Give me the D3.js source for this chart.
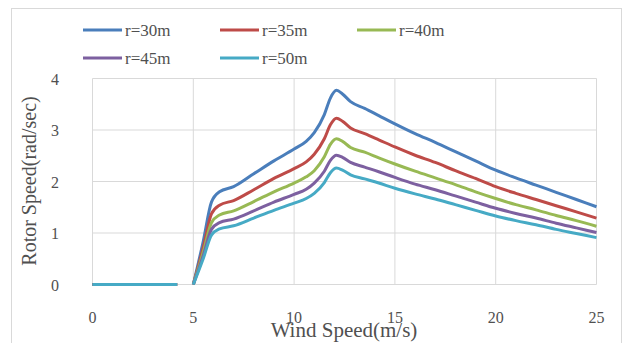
<!DOCTYPE html>
<html>
<head>
<meta charset="utf-8">
<script src="https://cdn.jsdelivr.net/npm/d3@7"></script>
<style>
  body { margin: 0; background: #fff; }
  svg { display: block; }
  svg text { font-family: "Liberation Serif", "DejaVu Serif", serif; }
</style>
</head>
<body>
<div id="chart"></div>
<script>
// wind speed (m/s) for the flat start, then the running part
const zeroWind = [0, 1, 2, 3, 4, 4.2];
const windSpeed = [5, 5.5, 5.9, 6.3, 7, 8, 9, 10, 10.6, 11, 11.5, 11.8, 12.1, 12.4, 12.8, 13.5, 14.2, 15, 16, 17, 18, 19, 20, 21, 22, 23, 24, 25];

// rotor speed (rad/sec) per rotor radius
const r30 = [0, 0.85, 1.6, 1.8, 1.9, 2.15, 2.4, 2.63, 2.78, 2.95, 3.3, 3.62, 3.77, 3.7, 3.55, 3.42, 3.28, 3.12, 2.93, 2.76, 2.58, 2.4, 2.22, 2.07, 1.93, 1.79, 1.65, 1.51];
const r35 = [0, 0.73, 1.37, 1.54, 1.63, 1.84, 2.06, 2.25, 2.38, 2.53, 2.83, 3.10, 3.23, 3.17, 3.04, 2.93, 2.81, 2.67, 2.51, 2.37, 2.21, 2.06, 1.90, 1.77, 1.65, 1.53, 1.41, 1.29];
const r40 = [0, 0.64, 1.2, 1.35, 1.43, 1.61, 1.8, 1.97, 2.09, 2.21, 2.48, 2.72, 2.83, 2.78, 2.66, 2.57, 2.46, 2.34, 2.2, 2.07, 1.94, 1.8, 1.67, 1.55, 1.45, 1.34, 1.24, 1.13];
const r45 = [0, 0.57, 1.07, 1.2, 1.27, 1.43, 1.6, 1.75, 1.85, 1.97, 2.2, 2.41, 2.51, 2.47, 2.37, 2.28, 2.19, 2.08, 1.95, 1.84, 1.72, 1.6, 1.48, 1.38, 1.29, 1.19, 1.1, 1.01];
const r50 = [0, 0.51, 0.96, 1.08, 1.14, 1.29, 1.44, 1.58, 1.67, 1.77, 1.98, 2.17, 2.26, 2.22, 2.13, 2.05, 1.97, 1.87, 1.76, 1.66, 1.55, 1.44, 1.33, 1.24, 1.16, 1.07, 0.99, 0.91];

const seriesNames = ['r=30m', 'r=35m', 'r=40m', 'r=45m', 'r=50m'];
const seriesValues = [r30, r35, r40, r45, r50];
const xTicks = [0, 5, 10, 15, 20, 25];
const yTicks = [0, 1, 2, 3, 4];

const colors = ['#4a7ebb', '#be4b48', '#98b954', '#7d60a0', '#46aac5'];

const width = 624, height = 343;
const svg = d3.select('#chart').append('svg')
    .attr('width', width)
    .attr('height', height);

// chart frame
svg.append('rect')
    .attr('x', 11.5).attr('y', 8.5)
    .attr('width', 610).attr('height', 345)
    .attr('fill', 'none')
    .attr('stroke', '#d9d9d9');

const x = d3.scaleLinear().domain([0, 25]).range([92.5, 596.5]);
const y = d3.scaleLinear().domain([0, 4]).range([284.5, 78.5]);

// grid
svg.append('g').selectAll('line')
    .data(yTicks)
    .enter().append('line')
    .attr('x1', x(0)).attr('x2', x(25))
    .attr('y1', d => y(d)).attr('y2', d => y(d))
    .attr('stroke', '#d9d9d9');

svg.append('g').selectAll('line')
    .data(xTicks)
    .enter().append('line')
    .attr('x1', d => x(d)).attr('x2', d => x(d))
    .attr('y1', y(0)).attr('y2', y(4))
    .attr('stroke', '#d9d9d9');

// tick labels
svg.append('g').selectAll('text')
    .data(yTicks)
    .enter().append('text')
    .attr('x', 59)
    .attr('y', d => y(d) + 6)
    .attr('text-anchor', 'end')
    .attr('font-size', 16)
    .attr('fill', '#505050')
    .text(d => d);

svg.append('g').selectAll('text')
    .data(xTicks)
    .enter().append('text')
    .attr('x', d => x(d))
    .attr('y', 323)
    .attr('text-anchor', 'middle')
    .attr('font-size', 16)
    .attr('fill', '#505050')
    .text(d => d);

// axis titles (x title sits over the tick labels, as in the original)
svg.append('text')
    .attr('x', 344)
    .attr('y', 337)
    .attr('text-anchor', 'middle')
    .attr('font-size', 21)
    .attr('fill', '#505050')
    .text('Wind Speed(m/s)');

svg.append('text')
    .attr('transform', 'translate(36,181) rotate(-90)')
    .attr('text-anchor', 'middle')
    .attr('font-size', 20)
    .attr('fill', '#505050')
    .text('Rotor Speed(rad/sec)');

// lines
const line = d3.line()
    .x(d => x(d[0]))
    .y(d => y(d[1]))
    .curve(d3.curveMonotoneX);

seriesValues.forEach((vals, i) => {
    const flat = zeroWind.map(w => [w, 0]);
    const pts = windSpeed.map((w, j) => [w, vals[j]]);
    [flat, pts].forEach(p => {
        svg.append('path')
            .attr('d', line(p))
            .attr('fill', 'none')
            .attr('stroke', colors[i])
            .attr('stroke-width', 3)
            .attr('stroke-linejoin', 'round');
    });
});

// legend
const legendPos = [[83, 30], [220, 30], [357, 30], [83, 58], [220, 58]];
seriesNames.forEach((name, i) => {
    const [lx, ly] = legendPos[i];
    svg.append('line')
        .attr('x1', lx).attr('x2', lx + 39)
        .attr('y1', ly).attr('y2', ly)
        .attr('stroke', colors[i])
        .attr('stroke-width', 3);
    svg.append('text')
        .attr('x', lx + 42)
        .attr('y', ly + 6)
        .attr('font-size', 17)
        .attr('fill', '#505050')
        .text(name);
});
</script>
</body>
</html>
